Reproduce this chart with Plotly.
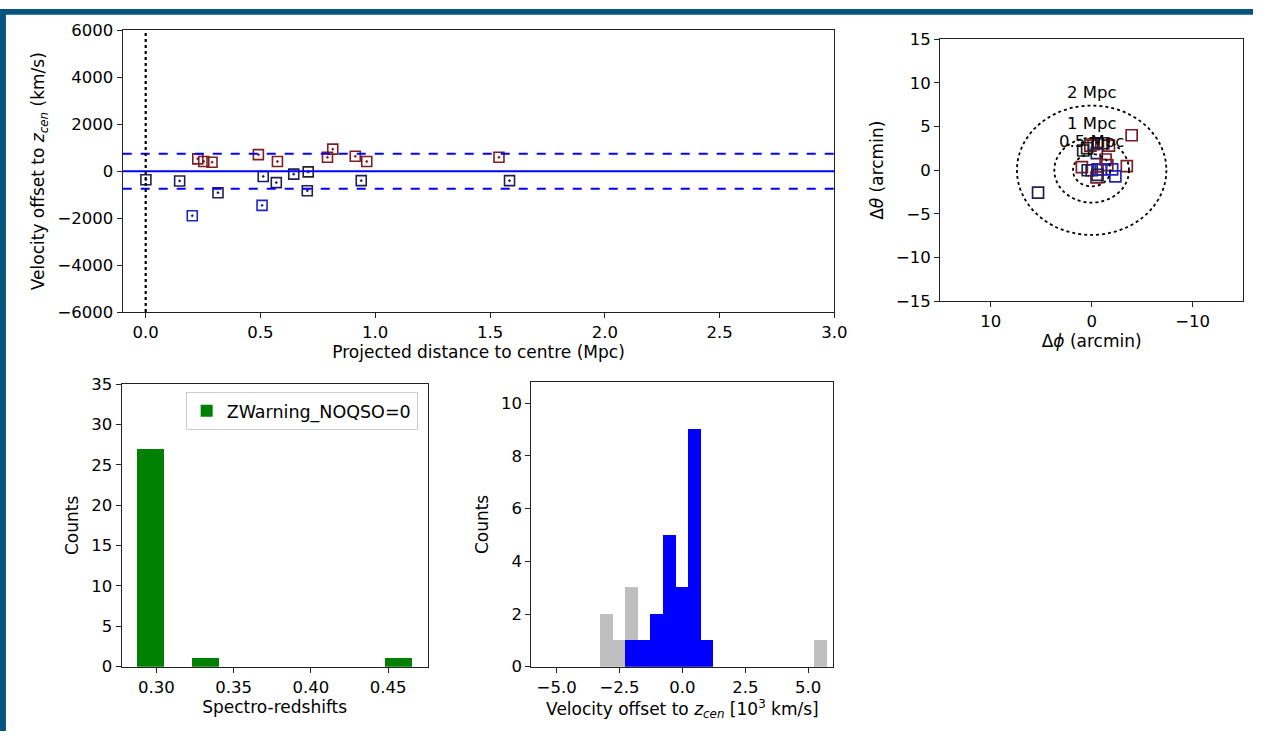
import numpy as np
import plotly.graph_objects as go

# ---------------- data ----------------
# top-left: projected distance (Mpc) vs velocity offset (km/s)
dist_mpc = [0.001, 0.148, 0.203, 0.227, 0.253, 0.289, 0.315, 0.491, 0.512, 0.507,
            0.574, 0.569, 0.645, 0.708, 0.704, 0.792, 0.815, 0.913, 0.939, 0.963,
            1.539, 1.585]
vel_kms = [-360, -415, -1897, 527, 415, 386, -914, 706, -222, -1453,
           415, -484, -125, -28, -830, 595, 941, 636, -401, 415,
           595, -401]
vel_group = ["navy", "navy", "blue", "red", "red", "red", "navy", "red", "navy", "blue",
             "red", "navy", "navy", "black", "navy", "red", "red", "red", "navy", "red",
             "red", "navy"]

# top-right: sky offsets (arcmin)
dphi = [-3.96, -0.19, 0.13, -0.58, -1.16, -1.71, 0.84, 0.45, -0.51, -1.38,
        -3.48, 0.97, 0.39, 0.00, -0.58, -0.90, -1.55, -2.03, -2.35, -0.48,
        -0.58, 5.31]
dtheta = [4.01, 2.98, 2.82, 3.09, 3.09, 2.82, 2.26, 2.53, 1.97, 1.23,
          0.48, 0.37, 0.00, 0.00, 0.11, 0.11, 0.59, 0.11, -0.70, -0.81,
          -0.52, -2.56]
sky_group = ["red", "red", "red", "red", "navy", "red", "black", "black", "navy", "red",
             "red", "red", "navy", "navy", "blue", "blue", "red", "blue", "blue", "red",
             "navy", "navy"]
circle_radii = [7.4, 3.7, 1.85]
circle_labels = ["2 Mpc", "1 Mpc", "0.5 Mpc"]
circle_label_y = [8.9, 5.4, 3.25]

# bottom-left: redshift histogram
z_edges = list(np.linspace(0.2872, 0.4654, 11))
z_counts = [27, 0, 1, 0, 0, 0, 0, 0, 0, 1]
legend_label = "ZWarning_NOQSO=0"

# bottom-middle: velocity histogram (10^3 km/s)
v_all_edges = list(np.arange(-3.25, 5.76, 0.5))
v_all_counts = [2, 1, 3, 1, 2, 5, 3, 9, 1, 0, 0, 0, 0, 0, 0, 0, 0, 1]
v_sel_edges = list(np.arange(-2.25, 1.26, 0.5))
v_sel_counts = [1, 1, 2, 5, 3, 9, 1]

colors = {"red": "#7d1f22", "navy": "#1f1f55", "blue": "#2323c0", "black": "#222222"}

W, H = 1266, 741

def px2x(p):
    return p / W

def px2y(p):
    return 1 - p / H

fig = go.Figure()

FONT = "DejaVu Sans"
tickfont = dict(family=FONT, size=16.5, color="black")
titlefont = dict(family=FONT, size=17, color="black")

# ---- top-left scatter ----
vcols = [colors[g] for g in vel_group]
fig.add_trace(go.Scatter(
    x=dist_mpc, y=vel_kms, mode="markers", xaxis="x", yaxis="y",
    marker=dict(symbol="square-open-dot", size=10, color=vcols,
                line=dict(width=1.6, color=vcols)),
    showlegend=False))

# ---- top-right sky ----
scols = [colors[g] for g in sky_group]
fig.add_trace(go.Scatter(
    x=dphi, y=dtheta, mode="markers", xaxis="x2", yaxis="y2",
    marker=dict(symbol="square-open", size=11, color=scols,
                line=dict(width=1.7, color=scols)),
    showlegend=False))

# ---- bottom-left histogram ----
zc = [(z_edges[i] + z_edges[i + 1]) / 2 for i in range(len(z_counts))]
zw = [z_edges[i + 1] - z_edges[i] for i in range(len(z_counts))]
fig.add_trace(go.Bar(x=zc, y=z_counts, width=zw, xaxis="x3", yaxis="y3",
                     marker=dict(color="#008000", line=dict(width=0)),
                     name=legend_label, showlegend=True))

# ---- bottom-middle histogram ----
vc = [(v_all_edges[i] + v_all_edges[i + 1]) / 2 for i in range(len(v_all_counts))]
vw = [v_all_edges[i + 1] - v_all_edges[i] for i in range(len(v_all_counts))]
fig.add_trace(go.Bar(x=vc, y=v_all_counts, width=vw, xaxis="x4", yaxis="y4",
                     marker=dict(color="#bfbfbf", line=dict(width=0)), showlegend=False))
sc = [(v_sel_edges[i] + v_sel_edges[i + 1]) / 2 for i in range(len(v_sel_counts))]
sw = [v_sel_edges[i + 1] - v_sel_edges[i] for i in range(len(v_sel_counts))]
fig.add_trace(go.Bar(x=sc, y=v_sel_counts, width=sw, xaxis="x4", yaxis="y4",
                     marker=dict(color="#0000ff", line=dict(width=0)), showlegend=False))

common_ax = dict(showgrid=False, zeroline=False, showline=True, linecolor="#222222",
                 linewidth=1.2, mirror=True, ticks="outside", ticklen=5, tickwidth=1.2,
                 tickcolor="#222222", tickfont=tickfont)

layout = dict(
    width=W, height=H, margin=dict(l=0, r=0, t=0, b=0),
    paper_bgcolor="white", plot_bgcolor="white", barmode="overlay", bargap=0,
    xaxis=dict(domain=[px2x(124), px2x(843)], range=[-0.1, 3.0], anchor="y",
               tickvals=[0, 0.5, 1.0, 1.5, 2.0, 2.5, 3.0], tickformat=".1f",
               title=dict(text="Projected distance to centre (Mpc)", font=titlefont, standoff=3),
               **common_ax),
    yaxis=dict(domain=[px2y(311), px2y(22)], range=[-6000, 6000], anchor="x",
               tickvals=[-6000, -4000, -2000, 0, 2000, 4000, 6000],
               title=dict(text="Velocity offset to <i>z</i><sub><i>cen</i></sub> (km/s)",
                          font=titlefont, standoff=8),
               **common_ax),
    xaxis2=dict(domain=[px2x(950), px2x(1256)], range=[15, -15], anchor="y2",
                tickvals=[10, 0, -10],
                title=dict(text="Δ<i>ϕ</i> (arcmin)", font=titlefont, standoff=3),
                **common_ax),
    yaxis2=dict(domain=[px2y(300), px2y(31)], range=[-15, 15], anchor="x2",
                tickvals=[-15, -10, -5, 0, 5, 10, 15],
                title=dict(text="Δ<i>θ</i> (arcmin)", font=titlefont, standoff=8),
                **common_ax),
    xaxis3=dict(domain=[px2x(123), px2x(432)], range=[0.2776, 0.4756], anchor="y3",
                tickvals=[0.30, 0.35, 0.40, 0.45], tickformat=".2f",
                title=dict(text="Spectro-redshifts", font=titlefont, standoff=3),
                **common_ax),
    yaxis3=dict(domain=[px2y(675), px2y(385)], range=[0, 35], anchor="x3",
                tickvals=[0, 5, 10, 15, 20, 25, 30, 35],
                title=dict(text="Counts", font=titlefont, standoff=8),
                **common_ax),
    xaxis4=dict(domain=[px2x(537), px2x(842)], range=[-6, 6], anchor="y4",
                tickvals=[-5, -2.5, 0, 2.5, 5], tickformat=".1f",
                title=dict(text="Velocity offset to <i>z</i><sub><i>cen</i></sub> [10<sup>3</sup> km/s]",
                           font=titlefont, standoff=3),
                **common_ax),
    yaxis4=dict(domain=[px2y(675), px2y(383)], range=[0, 10.8], anchor="x4",
                tickvals=[0, 2, 4, 6, 8, 10],
                title=dict(text="Counts", font=titlefont, standoff=8),
                **common_ax),
    legend=dict(x=px2x(422), y=px2y(393), xanchor="right", yanchor="top",
                bgcolor="white", bordercolor="#cccccc", borderwidth=1,
                font=dict(family=FONT, size=17.5, color="black")),
    showlegend=True,
)
fig.update_layout(**layout)

shapes = []
# top-left reference lines
shapes.append(dict(type="line", xref="x", yref="y", x0=-0.1, x1=3.0, y0=0, y1=0,
                   line=dict(color="#0000ff", width=2)))
for v in (750, -750):
    shapes.append(dict(type="line", xref="x", yref="y", x0=-0.1, x1=3.0, y0=v, y1=v,
                       line=dict(color="#0000ff", width=2, dash="dash")))
shapes.append(dict(type="line", xref="x", yref="y", x0=0, x1=0, y0=-6000, y1=6000,
                   line=dict(color="black", width=2.2, dash="dot")))
# sky circles
for r in circle_radii:
    shapes.append(dict(type="circle", xref="x2", yref="y2", x0=-r, x1=r, y0=-r, y1=r,
                       line=dict(color="black", width=1.8, dash="dot")))
# blue frame border
shapes.append(dict(type="rect", xref="paper", yref="paper", x0=0, x1=6 / W, y0=0, y1=1,
                   fillcolor="#05557f", line=dict(width=0), layer="above"))
shapes.append(dict(type="rect", xref="paper", yref="paper", x0=0, x1=1, y0=1 - 6 / H, y1=1,
                   fillcolor="#05557f", line=dict(width=0), layer="above"))
fig.update_layout(shapes=shapes)

for lab, yy in zip(circle_labels, circle_label_y):
    fig.add_annotation(x=0, y=yy, xref="x2", yref="y2", text=lab, showarrow=False,
                       font=dict(family=FONT, size=16.5, color="black"))

post = (
    "document.documentElement.style.margin='0';"
    "document.documentElement.style.overflow='hidden';"
    "document.body.style.margin='0';document.body.style.overflow='hidden';"
    "var d=document.getElementById('{plot_id}');"
    "d.style.position='fixed';d.style.top='0px';d.style.left='0px';"
)
fig.write_html("out.html", config={"displayModeBar": False}, post_script=post)
